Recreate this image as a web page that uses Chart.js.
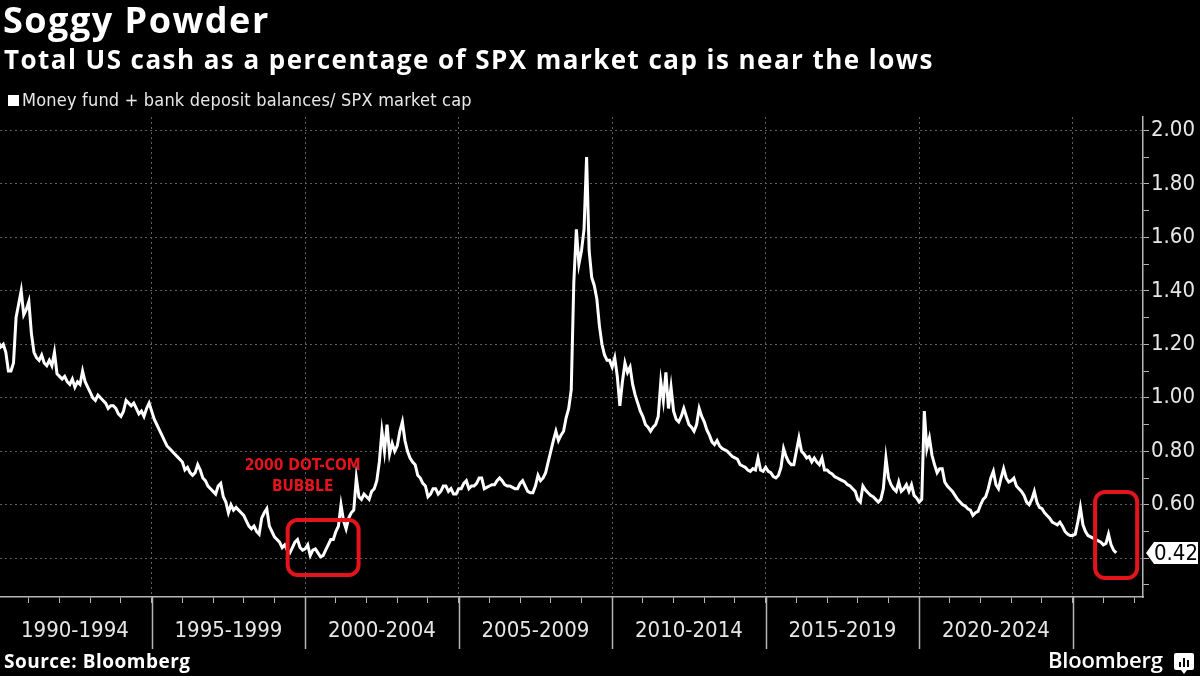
<!DOCTYPE html>
<html>
<head>
<meta charset="utf-8">
<script src="https://cdn.jsdelivr.net/npm/chart.js@4.4.1/dist/chart.umd.min.js"></script>
<style>
  html, body { margin: 0; padding: 0; background: #000; }
  body { width: 1200px; height: 676px; position: relative; overflow: hidden; color: #fff; font-family: "Open Sans", sans-serif; }
  #chart { position: absolute; left: 0; top: 0; }
  .title { position: absolute; left: 3px; top: -5px; font-size: 36px; font-weight: 700; letter-spacing: 1.5px; white-space: nowrap; }
  .subtitle { position: absolute; left: 4px; top: 41px; font-size: 26px; font-weight: 700; letter-spacing: 1.45px; white-space: nowrap; }
  .legend { position: absolute; left: 8px; top: 89px; font-family: "DejaVu Sans Condensed", "DejaVu Sans", sans-serif; font-size: 18px; letter-spacing: 0.2px; color: #e8e8e8; white-space: nowrap; }
  .legend i { display: inline-block; width: 11px; height: 11px; background: #fff; margin-right: 3px; vertical-align: 0px; }
  .source { position: absolute; left: 4px; top: 648px; font-size: 19px; font-weight: 700; letter-spacing: 0.5px; }
  .logo { position: absolute; left: 1048px; top: 644px; font-size: 22px; font-weight: 600; letter-spacing: -0.2px; }
  .logo svg { position: absolute; left: 126px; top: 9px; }
</style>
</head>
<body>
<canvas id="chart" width="1200" height="676"></canvas>
<div class="title">Soggy Powder</div>
<div class="subtitle">Total US cash as a percentage of SPX market cap is near the lows</div>
<div class="legend"><i></i>Money fund + bank deposit balances/ SPX market cap</div>
<div class="source">Source: Bloomberg</div>
<div class="logo">Bloomberg<svg width="20" height="22" viewBox="0 0 20 22"><path d="M2 0h16a2 2 0 0 1 2 2v13a2 2 0 0 1-2 2h-5l-3 4-3-4H2a2 2 0 0 1-2-2V2a2 2 0 0 1 2-2z" fill="#fff"/><rect x="5" y="9" width="2" height="5" fill="#000"/><rect x="9" y="5" width="2" height="9" fill="#000"/><rect x="13" y="7" width="2" height="7" fill="#000"/></svg></div>

<script>
// monthly values, Jan 1990 .. Jun 2026
const startYear = 1990;
const cashRatio = [
  1.21, 1.19, 1.20, 1.17, 1.10, 1.10, 1.13, 1.30, 1.35, 1.40, 1.31, 1.33, // 1990
  1.36, 1.24, 1.17, 1.15, 1.14, 1.16, 1.13, 1.12, 1.14, 1.12, 1.17, 1.09, // 1991
  1.08, 1.07, 1.08, 1.06, 1.05, 1.07, 1.04, 1.06, 1.05, 1.10, 1.06, 1.04, // 1992
  1.02, 1.00, 0.99, 1.01, 1.00, 0.99, 0.98, 0.96, 0.97, 0.97, 0.96, 0.94, // 1993
  0.93, 0.95, 0.99, 0.98, 0.97, 0.98, 0.96, 0.94, 0.95, 0.93, 0.96, 0.98, // 1994
  0.95, 0.92, 0.90, 0.88, 0.86, 0.84, 0.82, 0.81, 0.80, 0.79, 0.78, 0.77, // 1995
  0.76, 0.73, 0.74, 0.72, 0.71, 0.72, 0.75, 0.73, 0.70, 0.69, 0.67, 0.66, // 1996
  0.65, 0.64, 0.67, 0.68, 0.63, 0.61, 0.57, 0.60, 0.58, 0.59, 0.58, 0.57, // 1997
  0.56, 0.54, 0.52, 0.51, 0.52, 0.50, 0.49, 0.55, 0.57, 0.585, 0.52, 0.50, // 1998
  0.48, 0.47, 0.46, 0.44, 0.45, 0.43, 0.42, 0.44, 0.46, 0.47, 0.44, 0.43, // 1999
  0.435, 0.45, 0.41, 0.43, 0.435, 0.42, 0.405, 0.41, 0.43, 0.45, 0.47, 0.47, // 2000
  0.50, 0.52, 0.60, 0.54, 0.51, 0.55, 0.57, 0.58, 0.70, 0.63, 0.62, 0.64, // 2001
  0.63, 0.62, 0.65, 0.66, 0.69, 0.76, 0.875, 0.80, 0.90, 0.79, 0.83, 0.80, // 2002
  0.82, 0.875, 0.91, 0.84, 0.80, 0.775, 0.76, 0.75, 0.71, 0.70, 0.68, 0.67, // 2003
  0.63, 0.64, 0.66, 0.66, 0.64, 0.65, 0.67, 0.67, 0.65, 0.66, 0.64, 0.64, // 2004
  0.66, 0.66, 0.68, 0.69, 0.66, 0.67, 0.67, 0.68, 0.70, 0.70, 0.66, 0.665, // 2005
  0.67, 0.675, 0.675, 0.69, 0.70, 0.69, 0.675, 0.67, 0.67, 0.665, 0.66, 0.66, // 2006
  0.68, 0.69, 0.67, 0.65, 0.645, 0.645, 0.67, 0.71, 0.69, 0.70, 0.72, 0.76, // 2007
  0.80, 0.84, 0.875, 0.84, 0.86, 0.875, 0.925, 0.96, 1.03, 1.43, 1.63, 1.50, // 2008
  1.55, 1.63, 1.90, 1.55, 1.45, 1.42, 1.37, 1.27, 1.20, 1.16, 1.14, 1.14, // 2009
  1.115, 1.15, 1.08, 0.97, 1.06, 1.13, 1.095, 1.115, 1.05, 1.01, 0.98, 0.95, // 2010
  0.93, 0.90, 0.89, 0.875, 0.89, 0.90, 0.93, 1.06, 0.99, 1.095, 0.96, 1.04, // 2011
  0.95, 0.92, 0.91, 0.93, 0.96, 0.93, 0.90, 0.89, 0.875, 0.90, 0.96, 0.93, // 2012
  0.91, 0.88, 0.86, 0.835, 0.825, 0.84, 0.82, 0.81, 0.805, 0.80, 0.79, 0.78, // 2013
  0.775, 0.77, 0.75, 0.745, 0.74, 0.73, 0.725, 0.735, 0.73, 0.775, 0.73, 0.725, // 2014
  0.74, 0.725, 0.72, 0.705, 0.70, 0.71, 0.74, 0.81, 0.78, 0.76, 0.75, 0.75, // 2015
  0.80, 0.85, 0.80, 0.79, 0.775, 0.78, 0.76, 0.775, 0.76, 0.75, 0.775, 0.73, // 2016
  0.73, 0.72, 0.715, 0.705, 0.70, 0.695, 0.69, 0.685, 0.675, 0.67, 0.66, 0.65, // 2017
  0.62, 0.61, 0.67, 0.655, 0.645, 0.635, 0.63, 0.62, 0.61, 0.62, 0.66, 0.775, // 2018
  0.70, 0.675, 0.66, 0.65, 0.685, 0.65, 0.66, 0.675, 0.65, 0.675, 0.635, 0.625, // 2019
  0.61, 0.62, 0.95, 0.81, 0.85, 0.785, 0.75, 0.72, 0.735, 0.735, 0.685, 0.67, // 2020
  0.66, 0.65, 0.635, 0.62, 0.61, 0.60, 0.595, 0.585, 0.58, 0.56, 0.57, 0.575, // 2021
  0.60, 0.62, 0.63, 0.66, 0.70, 0.725, 0.675, 0.66, 0.70, 0.735, 0.70, 0.685, // 2022
  0.69, 0.70, 0.67, 0.66, 0.65, 0.635, 0.61, 0.60, 0.62, 0.65, 0.61, 0.59, // 2023
  0.585, 0.57, 0.56, 0.55, 0.535, 0.53, 0.525, 0.535, 0.52, 0.50, 0.49, 0.485, // 2024
  0.485, 0.49, 0.535, 0.59, 0.525, 0.50, 0.485, 0.48, 0.475, 0.47, 0.465, 0.46, // 2025
  0.45, 0.455, 0.49, 0.45, 0.43, 0.42 // 2026
];

const rangeLabels = ["1990-1994", "1995-1999", "2000-2004", "2005-2009", "2010-2014", "2015-2019", "2020-2024"];
const rangeStarts = [1990, 1995, 2000, 2005, 2010, 2015, 2020];
const rangeBreaks = [1995, 2000, 2005, 2010, 2015, 2020, 2025];
const yTickValues = [0.3, 0.4, 0.5, 0.6, 0.7, 0.8, 0.9, 1.0, 1.1, 1.2, 1.3, 1.4, 1.5, 1.6, 1.7, 1.8, 1.9, 2.0];

// annotation boxes: [fromYear, toYear, topValue, bottomValue]
const dotcomBox = [1999.43, 2001.74, 0.543, 0.337];
const latestBox = [2025.73, 2027.1, 0.648, 0.326];
const noteLines = ["2000 DOT-COM", "BUBBLE"];

const points = cashRatio.map((v, i) => ({ x: startYear + i / 12, y: v }));
const lastValue = cashRatio[cashRatio.length - 1];

const labelAt = {};
rangeStarts.forEach((s, i) => { labelAt[s + 2.5] = rangeLabels[i]; });

function isEvenTenth(v) {
  return Math.round(v * 10) % 2 === 0;
}

const axisFont = { family: "'DejaVu Sans Condensed', 'DejaVu Sans', sans-serif", size: 22 };

function roundRect(ctx, x, y, w, h, r) {
  ctx.beginPath();
  ctx.moveTo(x + r, y);
  ctx.arcTo(x + w, y, x + w, y + h, r);
  ctx.arcTo(x + w, y + h, x, y + h, r);
  ctx.arcTo(x, y + h, x, y, r);
  ctx.arcTo(x, y, x + w, y, r);
  ctx.closePath();
}

const extras = {
  id: "extras",
  afterDraw(chart) {
    const ctx = chart.ctx;
    const xs = chart.scales.x, ys = chart.scales.y;
    ctx.save();

    // long separators between the 5-year ranges
    ctx.strokeStyle = "#b5b5b5";
    ctx.lineWidth = 1.5;
    rangeBreaks.forEach(yr => {
      const px = Math.round(xs.getPixelForValue(yr)) + 0.5;
      ctx.beginPath();
      ctx.moveTo(px, xs.top);
      ctx.lineTo(px, xs.top + 52);
      ctx.stroke();
    });

    // red boxes
    ctx.strokeStyle = "#e3141c";
    ctx.lineWidth = 4;
    [dotcomBox, latestBox].forEach(b => {
      const x1 = xs.getPixelForValue(b[0]), x2 = xs.getPixelForValue(b[1]);
      const y1 = ys.getPixelForValue(b[2]), y2 = ys.getPixelForValue(b[3]);
      roundRect(ctx, x1, y1, x2 - x1, y2 - y1, 10);
      ctx.stroke();
    });

    // annotation text
    ctx.fillStyle = "#e3141c";
    ctx.font = "bold 15.5px 'DejaVu Sans Condensed', 'DejaVu Sans', sans-serif";
    ctx.textAlign = "center";
    ctx.textBaseline = "middle";
    const cx = xs.getPixelForValue(1999.92);
    ctx.fillText(noteLines[0], cx, ys.getPixelForValue(0.745));
    ctx.fillText(noteLines[1], cx, ys.getPixelForValue(0.667));

    // last value tag
    const ty = ys.getPixelForValue(lastValue);
    const left = ys.left + 3;
    ctx.fillStyle = "#fff";
    ctx.beginPath();
    ctx.moveTo(left, ty);
    ctx.lineTo(left + 8, ty - 11);
    ctx.lineTo(1198, ty - 11);
    ctx.lineTo(1198, ty + 11);
    ctx.lineTo(left + 8, ty + 11);
    ctx.closePath();
    ctx.fill();
    ctx.fillStyle = "#000";
    ctx.font = "22px 'DejaVu Sans Condensed', 'DejaVu Sans', sans-serif";
    ctx.textAlign = "left";
    ctx.fillText(lastValue.toFixed(2), left + 8, ty + 1);

    ctx.restore();
  }
};

new Chart(document.getElementById("chart"), {
  type: "line",
  data: {
    datasets: [{
      label: "Money fund + bank deposit balances/ SPX market cap",
      data: points,
      borderColor: "#ffffff",
      borderWidth: 3,
      pointRadius: 0,
      tension: 0
    }]
  },
  options: {
    responsive: false,
    animation: false,
    devicePixelRatio: 1,
    layout: { padding: { top: 117, left: 0, right: 0, bottom: 0 } },
    plugins: { legend: { display: false }, tooltip: { enabled: false } },
    scales: {
      x: {
        type: "linear",
        min: 1990.06,
        max: 2027.29,
        afterFit(scale) { scale.height = 79; },
        afterBuildTicks(scale) {
          const t = [];
          for (let y = 1991; y <= 2027; y++) t.push(y);
          rangeStarts.forEach(s => t.push(s + 2.5));
          t.sort((a, b) => a - b);
          scale.ticks = t.map(v => ({ value: v }));
        },
        ticks: {
          autoSkip: false,
          maxRotation: 0,
          color: "#e6e6e6",
          font: axisFont,
          padding: 15,
          callback: v => labelAt[v] || ""
        },
        grid: {
          color: c => (c.tick && c.tick.value % 5 === 0) ? "#5e5e5e" : "transparent",
          tickColor: c => (c.tick && Number.isInteger(c.tick.value)) ? "#b5b5b5" : "transparent",
          tickLength: 6,
          lineWidth: 1
        },
        border: { color: "#b5b5b5", width: 1.5, dash: [2, 3] }
      },
      y: {
        position: "right",
        min: 0.255,
        max: 2.05,
        afterFit(scale) { scale.width = 57; },
        afterBuildTicks(scale) {
          scale.ticks = yTickValues.map(v => ({ value: v }));
        },
        ticks: {
          autoSkip: false,
          color: "#e6e6e6",
          font: axisFont,
          padding: 2,
          callback: v => (isEvenTenth(v) && v > 0.55) ? v.toFixed(2) : ""
        },
        grid: {
          color: c => (c.tick && isEvenTenth(c.tick.value) && c.tick.value > 0.35) ? "#5e5e5e" : "transparent",
          tickColor: "#b5b5b5",
          tickLength: 6,
          lineWidth: 1
        },
        border: { color: "#b5b5b5", width: 1.5, dash: [2, 3] }
      }
    }
  },
  plugins: [extras]
});
</script>
</body>
</html>
